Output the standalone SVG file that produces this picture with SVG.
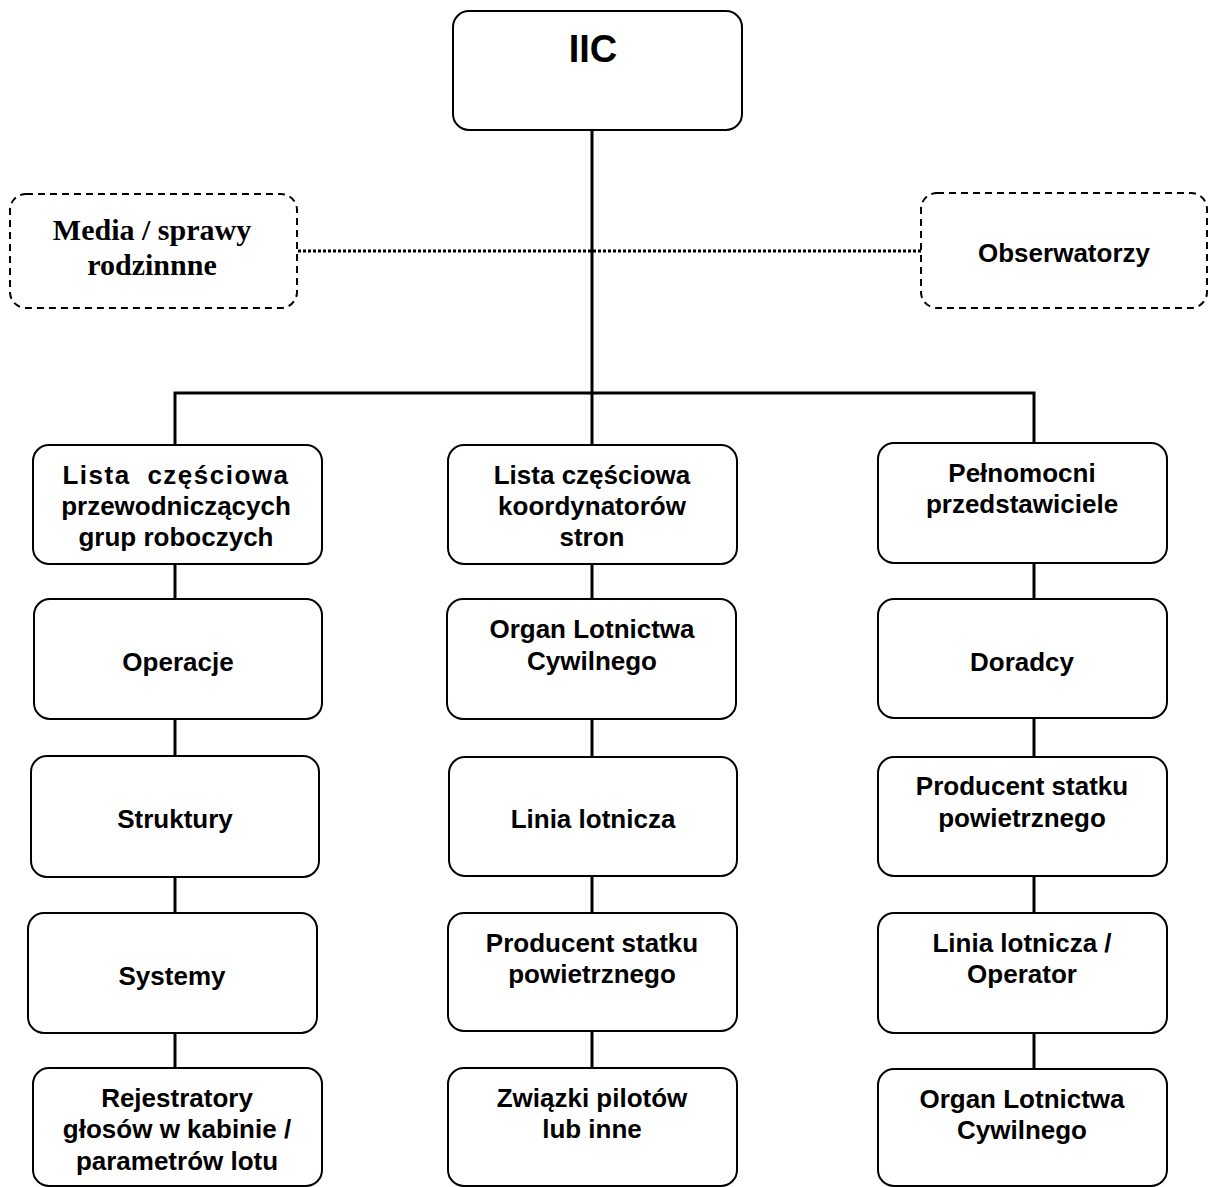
<svg xmlns="http://www.w3.org/2000/svg" width="1212" height="1187" viewBox="0 0 1212 1187">
  <style>
    .box { fill: #ffffff; stroke: #000000; stroke-width: 2; }
    .dbox { fill: #ffffff; stroke: #000000; stroke-width: 2; stroke-dasharray: 7 5; }
    .link { fill: none; stroke: #000000; stroke-width: 3; }
    .dots { fill: none; stroke: #000000; stroke-width: 3; stroke-dasharray: 3 2; }
    .t { font-family: "Liberation Sans", Arial, sans-serif; font-weight: bold; font-size: 26px; fill: #000000; text-anchor: middle; }
    .ts { font-family: "Liberation Serif", "Times New Roman", serif; font-weight: bold; font-size: 30px; fill: #000000; text-anchor: middle; }
    .big { font-size: 38px; }
  </style>
  <rect width="1212" height="1187" fill="#ffffff"/>

  <!-- connectors -->
  <g id="connectors">
    <line class="link" x1="592" y1="130" x2="592" y2="393"/>
    <line class="dots" x1="298" y1="251" x2="921" y2="251"/>
    <polyline class="link" points="175,445 175,393 1034,393 1034,444"/>
    <line class="link" x1="592" y1="393" x2="592" y2="445"/>
    <!-- column 1 -->
    <line class="link" x1="175" y1="564" x2="175" y2="599"/>
    <line class="link" x1="175" y1="719" x2="175" y2="756"/>
    <line class="link" x1="175" y1="877" x2="175" y2="913"/>
    <line class="link" x1="175" y1="1033" x2="175" y2="1068"/>
    <!-- column 2 -->
    <line class="link" x1="592" y1="564" x2="592" y2="599"/>
    <line class="link" x1="592" y1="719" x2="592" y2="757"/>
    <line class="link" x1="592" y1="876" x2="592" y2="913"/>
    <line class="link" x1="592" y1="1031" x2="592" y2="1068"/>
    <!-- column 3 -->
    <line class="link" x1="1034" y1="563" x2="1034" y2="599"/>
    <line class="link" x1="1034" y1="718" x2="1034" y2="757"/>
    <line class="link" x1="1034" y1="876" x2="1034" y2="913"/>
    <line class="link" x1="1034" y1="1033" x2="1034" y2="1069"/>
  </g>

  <!-- top -->
  <g id="iic">
    <rect class="box" x="453" y="11" width="289" height="119" rx="16"/>
    <text class="t big" x="593" y="62">IIC</text>
  </g>

  <g id="media">
    <rect class="dbox" x="10" y="194" width="287" height="114" rx="16"/>
    <text class="ts" x="152" y="240">Media / sprawy</text>
    <text class="ts" x="152" y="275">rodzinnne</text>
  </g>

  <g id="obserwatorzy">
    <rect class="dbox" x="921" y="193" width="286" height="115" rx="16"/>
    <text class="t" x="1064" y="262">Obserwatorzy</text>
  </g>

  <!-- column 1 -->
  <g id="lista-przewodniczacych">
    <rect class="box" x="33" y="445" width="289" height="119" rx="16"/>
    <text class="t" x="176" y="484" letter-spacing="1.5" word-spacing="8">Lista częściowa</text>
    <text class="t" x="176" y="515">przewodniczących</text>
    <text class="t" x="176" y="546">grup roboczych</text>
  </g>
  <g id="operacje">
    <rect class="box" x="34" y="599" width="288" height="120" rx="16"/>
    <text class="t" x="178" y="671">Operacje</text>
  </g>
  <g id="struktury">
    <rect class="box" x="31" y="756" width="288" height="121" rx="16"/>
    <text class="t" x="175" y="828">Struktury</text>
  </g>
  <g id="systemy">
    <rect class="box" x="28" y="913" width="289" height="120" rx="16"/>
    <text class="t" x="172" y="985">Systemy</text>
  </g>
  <g id="rejestratory">
    <rect class="box" x="33" y="1068" width="289" height="118" rx="16"/>
    <text class="t" x="177" y="1107">Rejestratory</text>
    <text class="t" x="177" y="1138">głosów w kabinie /</text>
    <text class="t" x="177" y="1170">parametrów lotu</text>
  </g>

  <!-- column 2 -->
  <g id="lista-koordynatorow">
    <rect class="box" x="448" y="445" width="289" height="119" rx="16"/>
    <text class="t" x="592" y="484">Lista częściowa</text>
    <text class="t" x="592" y="515">koordynatorów</text>
    <text class="t" x="592" y="546">stron</text>
  </g>
  <g id="organ-2">
    <rect class="box" x="447" y="599" width="289" height="120" rx="16"/>
    <text class="t" x="592" y="638">Organ Lotnictwa</text>
    <text class="t" x="592" y="670">Cywilnego</text>
  </g>
  <g id="linia-2">
    <rect class="box" x="449" y="757" width="288" height="119" rx="16"/>
    <text class="t" x="593" y="828">Linia lotnicza</text>
  </g>
  <g id="producent-2">
    <rect class="box" x="448" y="913" width="289" height="118" rx="16"/>
    <text class="t" x="592" y="952">Producent statku</text>
    <text class="t" x="592" y="983">powietrznego</text>
  </g>
  <g id="zwiazki">
    <rect class="box" x="448" y="1068" width="289" height="118" rx="16"/>
    <text class="t" x="592" y="1107">Związki pilotów</text>
    <text class="t" x="592" y="1138">lub inne</text>
  </g>

  <!-- column 3 -->
  <g id="pelnomocni">
    <rect class="box" x="878" y="443" width="289" height="120" rx="16"/>
    <text class="t" x="1022" y="482">Pełnomocni</text>
    <text class="t" x="1022" y="513">przedstawiciele</text>
  </g>
  <g id="doradcy">
    <rect class="box" x="878" y="599" width="289" height="119" rx="16"/>
    <text class="t" x="1022" y="671">Doradcy</text>
  </g>
  <g id="producent-3">
    <rect class="box" x="878" y="757" width="289" height="119" rx="16"/>
    <text class="t" x="1022" y="795">Producent statku</text>
    <text class="t" x="1022" y="827">powietrznego</text>
  </g>
  <g id="linia-3">
    <rect class="box" x="878" y="913" width="289" height="120" rx="16"/>
    <text class="t" x="1022" y="952">Linia lotnicza /</text>
    <text class="t" x="1022" y="983">Operator</text>
  </g>
  <g id="organ-3">
    <rect class="box" x="878" y="1069" width="289" height="117" rx="16"/>
    <text class="t" x="1022" y="1108">Organ Lotnictwa</text>
    <text class="t" x="1022" y="1139">Cywilnego</text>
  </g>
</svg>
